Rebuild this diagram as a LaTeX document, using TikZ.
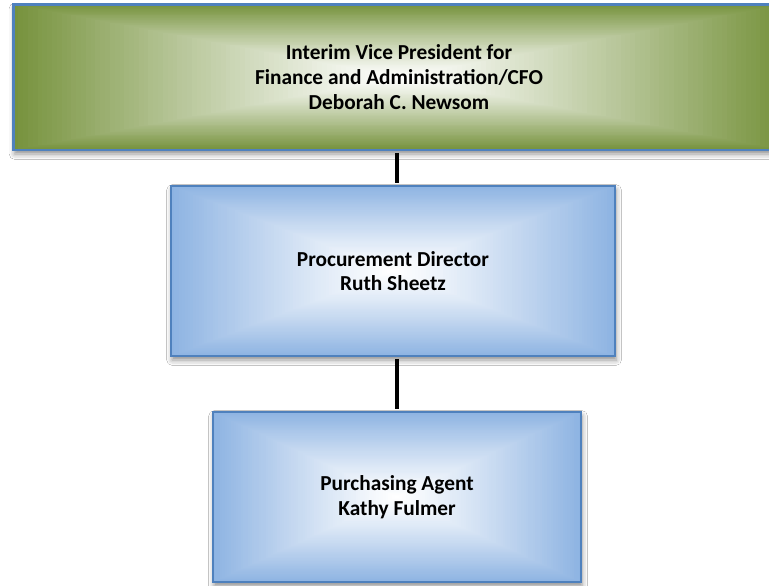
\documentclass[tikz,border=0pt]{standalone}
\usepackage{fontspec}
\setmainfont{Carlito}
\usetikzlibrary{calc,shadows.blur}
\definecolor{grn}{RGB}{118,146,60}
\definecolor{blu}{RGB}{141,179,226}
\definecolor{brd}{RGB}{79,129,189}
\tikzset{
  orgbox/.style={draw=brd, line width=2.2pt, align=center, inner sep=0pt,
    font=\fontsize{16}{18.5}\selectfont\bfseries, text=black,
    blur shadow={shadow xshift=0.8pt, shadow yshift=-3pt, shadow blur radius=4pt, shadow opacity=45},
    path picture={
      \foreach \k in {0,...,80}{
        \pgfmathsetmacro{\t}{1-\k/80}
        \pgfmathtruncatemacro{\p}{100*(\t^1.15)}
        \fill[#1!\p!white]
          ($(path picture bounding box.center)!\t!(path picture bounding box.south west)$)
          rectangle
          ($(path picture bounding box.center)!\t!(path picture bounding box.north east)$);
      }
    }},
  conn/.style={line width=3pt, black, shorten <=1.1pt, shorten >=1.1pt},
}
\begin{document}
\begin{tikzpicture}[x=0.75pt, y=-0.75pt]
\useasboundingbox (0,0) rectangle (769,586);
\fill[white] (0,0) rectangle (769,586);
\clip (0,0) rectangle (769,586);
\node[orgbox=grn, minimum width=578.25pt, minimum height=109.1pt] (top) at (399,77.25)
  {Interim Vice President for\\Finance and Administration/CFO\\Deborah C. Newsom};
\node[orgbox=blu, minimum width=333pt, minimum height=127.5pt] (mid) at (393,271)
  {Procurement Director\\Ruth Sheetz};
\node[orgbox=blu, minimum width=276pt, minimum height=127.5pt] (bot) at (397,497)
  {Purchasing Agent\\Kathy Fulmer};
\draw[conn] (top.south -| bot.north) -- (mid.north -| bot.north);
\draw[conn] (mid.south -| bot.north) -- (bot.north);
\end{tikzpicture}
\end{document}
